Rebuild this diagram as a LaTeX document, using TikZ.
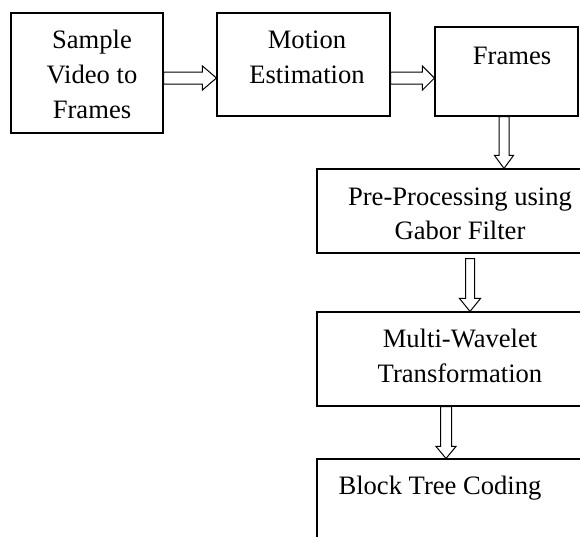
\documentclass[tikz,border=0pt]{standalone}
\usepackage{fontspec}
\setmainfont{Liberation Serif}
\usetikzlibrary{calc}

\tikzset{
  box/.style={draw, line width=1.1pt, rectangle, inner sep=0pt},
  txt/.style={anchor=base, inner sep=0pt, font=\fontsize{26.6}{35}\selectfont},
  hollow/.style={draw, line width=1pt, fill=white, line join=miter},
}

% hollow block arrow: #1 start, #2 tip, #3 shaft half-width, #4 head half-width, #5 head length
\newcommand\hollowright[5]{%
  \path[hollow] ($(#1)+(0,-#3)$) -- ($(#2)+(-#5,-#3)$) -- ($(#2)+(-#5,-#4)$) -- (#2)
    -- ($(#2)+(-#5,#4)$) -- ($(#2)+(-#5,#3)$) -- ($(#1)+(0,#3)$) -- cycle;}
\newcommand\hollowdown[5]{%
  \path[hollow] ($(#1)+(-#3,0)$) -- ($(#2)+(-#3,-#5)$) -- ($(#2)+(-#4,-#5)$) -- (#2)
    -- ($(#2)+(#4,-#5)$) -- ($(#2)+(#3,-#5)$) -- ($(#1)+(#3,0)$) -- cycle;}

\begin{document}
\begin{tikzpicture}[x=1pt, y=-1pt]
  \useasboundingbox (0,0) rectangle (580,536);
  \clip (0,0) rectangle (580,536);

  % boxes
  \node[box, minimum width=152pt, minimum height=120pt] (b1) at (87,73) {};
  \node[box, minimum width=173pt, minimum height=103pt] (b2) at (303.5,64.5) {};
  \node[box, minimum width=143pt, minimum height=89pt]  (b3) at (506.5,71.5) {};
  \node[box, minimum width=286pt, minimum height=84pt]  (b4) at (460,211) {};
  \node[box, minimum width=286pt, minimum height=94pt]  (b5) at (460,359) {};
  \node[box, minimum width=286pt, minimum height=106pt] (b6) at (460,512) {};

  % box texts
  \node[txt] (t1a) at (92,48)  {Sample};
  \node[txt] (t1b) at (92,83)  {Video to};
  \node[txt] (t1c) at (92,118) {Frames};
  \node[txt] (t2a) at (307,48) {Motion};
  \node[txt] (t2b) at (307,83) {Estimation};
  \node[txt] (t3a) at (512,64) {Frames};
  \node[txt] (t4a) at (460,205) {Pre-Processing using};
  \node[txt] (t4b) at (460,239) {Gabor Filter};
  \node[txt] (t5a) at (460,347) {Multi-Wavelet};
  \node[txt] (t5b) at (460,382) {Transformation};
  \node[txt] (t6a) at (440,494) {Block Tree Coding};

  % connectors
  \hollowright{b1.east |- 0,78}{b2.west |- 0,78}{6}{12}{14}
  \hollowright{b2.east |- 0,78}{b3.west |- 0,78}{6}{12}{12}
  \hollowdown{b3.south -| 504,0}{b4.north -| 504,0}{5}{9.5}{13}
  \coordinate (a4s) at ($(b4.south -| 470,0)+(0,5)$);
  \hollowdown{a4s}{b5.north -| 470,0}{4.5}{10.5}{13}
  \hollowdown{b5.south -| 446,0}{b6.north -| 446,0}{5.5}{10}{12}
\end{tikzpicture}
\end{document}
